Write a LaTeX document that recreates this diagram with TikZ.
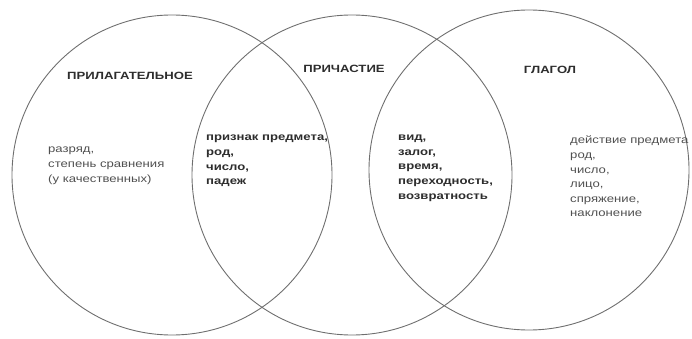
\documentclass[tikz,border=0pt]{standalone}
\usepackage{fontspec}
\setmainfont{Liberation Sans}[FakeStretch=1.25]
\usetikzlibrary{positioning}
\definecolor{cLine}{RGB}{110,110,110}
\definecolor{cText}{RGB}{45,45,45}
\definecolor{cSoft}{RGB}{80,80,80}

\begin{document}
\begin{tikzpicture}[
  x=1pt,y=-1pt,
  venn/.style={draw=cLine,line width=0.9pt,circle,minimum size=320pt,inner sep=0pt},
  head/.style={font=\fontsize{10.5}{12}\selectfont\bfseries,text=cText,inner sep=0pt},
  feat/.style={font=\fontsize{10.5}{14.6}\selectfont,text=cSoft,align=left,
               anchor=north west,inner sep=0pt},
  common/.style={feat,text=cText,font=\fontsize{10.5}{14.6}\selectfont\bfseries},
]
\useasboundingbox (0,0) rectangle (692,339);
% three circles
\node[venn] (adj)  at (172,175) {};
\node[venn] (part) at (352,175) {};
\node[venn] (verb) at (529,170) {};
% titles
\node[head] (adjT)  at (130,76) {ПРИЛАГАТЕЛЬНОЕ};
\node[head] (partT) at (344,69) {ПРИЧАСТИЕ};
\node[head] (verbT) at (550,70) {ГЛАГОЛ};
% features
\node[feat] (adjF) at (48,147) {разряд,\\степень сравнения\\(у качественных)};
\node[common] (adjPart) at (206,135) {признак предмета,\\род,\\число,\\падеж};
\node[common] (partVerb) at (398,135) {вид,\\залог,\\время,\\переходность,\\возвратность};
\node[feat] (verbF) at (570,136) {действие предмета\\род,\\число,\\лицо,\\спряжение,\\наклонение};
\end{tikzpicture}
\end{document}
